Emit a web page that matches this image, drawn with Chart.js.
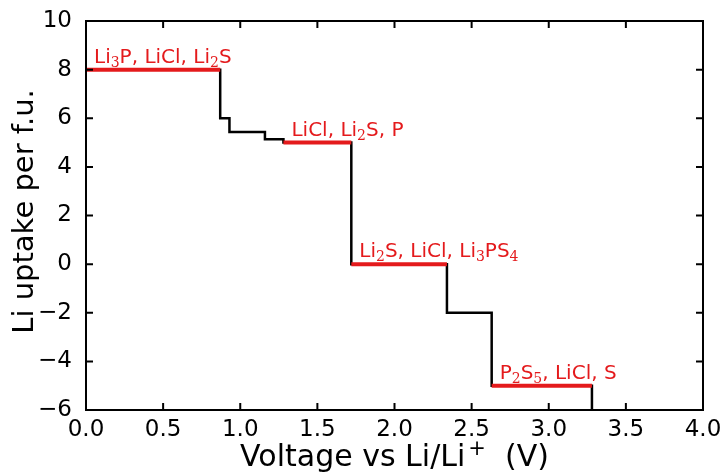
<!DOCTYPE html>
<html>
<head>
<meta charset="utf-8">
<script src="https://cdn.jsdelivr.net/npm/chart.js@4.4.0/dist/chart.umd.min.js"></script>
<style>
  html, body { margin: 0; padding: 0; background: #fff; }
</style>
</head>
<body>
<canvas id="myChart" width="723" height="472"></canvas>
<script>
// voltage profile (step function, value holds until next voltage)
var voltage = [0, 0.87, 0.93, 1.16, 1.28, 1.72, 2.34, 2.63, 3.28];
var uptake = [8, 6, 5.43, 5.14, 5, 0, -2, -5, -6];

// highlighted phase plateaus
var phaseStart = [0, 1.28, 1.72, 2.63];
var phaseEnd = [0.87, 1.72, 2.34, 3.28];
var phaseUptake = [8, 5, 0, -5];
var phaseLabels = ['Li_3P, LiCl, Li_2S', 'LiCl, Li_2S, P', 'Li_2S, LiCl, Li_3PS_4', 'P_2S_5, LiCl, S'];

var xMin = 0, xMax = 4, xStep = 0.5;
var yMin = -6, yMax = 10, yStep = 2;

var RED = 'rgb(228,26,28)';
var ctx = document.getElementById('myChart');

var profile = [];
for (var i = 0; i < voltage.length; i++) {
  profile.push({x: voltage[i], y: uptake[i]});
}

var datasets = [];
for (var j = 0; j < phaseStart.length; j++) {
  datasets.push({
    data: [{x: phaseStart[j], y: phaseUptake[j]}, {x: phaseEnd[j], y: phaseUptake[j]}],
    borderColor: RED,
    borderWidth: 4,
    pointRadius: 0,
    showLine: true,
    order: 0
  });
}
datasets.push({
  data: profile,
  borderColor: '#000',
  borderWidth: 2.5,
  pointRadius: 0,
  showLine: true,
  stepped: 'before',
  order: 1
});

// draw a string where _N means subscript N
function drawRich(c, str, x, y, size, color) {
  var parts = str.split(/(_\d)/);
  c.save();
  c.fillStyle = color;
  c.textBaseline = 'alphabetic';
  c.textAlign = 'left';
  for (var k = 0; k < parts.length; k++) {
    var p = parts[k];
    if (!p) continue;
    if (p[0] === '_') {
      c.font = Math.round(size * 0.72) + 'px "DejaVu Serif"';
      c.fillText(p.slice(1), x, y + size * 0.2);
      x += c.measureText(p.slice(1)).width;
    } else {
      c.font = size + 'px "DejaVu Sans"';
      c.fillText(p, x, y);
      x += c.measureText(p).width;
    }
  }
  c.restore();
}

var decorations = {
  id: 'decorations',
  afterDatasetsDraw: function(chart) {
    var c = chart.ctx;
    var a = chart.chartArea;
    var xs = chart.scales.x, ys = chart.scales.y;

    // frame
    c.save();
    c.strokeStyle = '#000';
    c.lineWidth = 2;
    c.strokeRect(a.left, a.top, a.right - a.left, a.bottom - a.top);

    // inward ticks on all sides
    c.lineWidth = 2;
    c.beginPath();
    xs.ticks.forEach(function(t) {
      var px = xs.getPixelForValue(t.value);
      c.moveTo(px, a.bottom); c.lineTo(px, a.bottom - 7);
      c.moveTo(px, a.top); c.lineTo(px, a.top + 7);
    });
    ys.ticks.forEach(function(t) {
      var py = ys.getPixelForValue(t.value);
      c.moveTo(a.left, py); c.lineTo(a.left + 7, py);
      c.moveTo(a.right, py); c.lineTo(a.right - 7, py);
    });
    c.stroke();
    c.restore();

    // phase labels
    for (var n = 0; n < phaseLabels.length; n++) {
      var lx = xs.getPixelForValue(phaseStart[n]) + 8;
      var ly = ys.getPixelForValue(phaseUptake[n]) - 7;
      drawRich(c, phaseLabels[n], lx, ly, 20, RED);
    }

    // x axis title with superscript
    c.save();
    c.fillStyle = '#000';
    c.textBaseline = 'alphabetic';
    var big = '30px "DejaVu Sans"', small = '21px "DejaVu Sans"';
    var s1 = 'Voltage vs Li/Li', s2 = '+', s3 = '  (V)';
    c.font = big; var w1 = c.measureText(s1).width, w3 = c.measureText(s3).width;
    c.font = small; var w2 = c.measureText(s2).width + 3;
    var tx = (a.left + a.right) / 2 - (w1 + w2 + w3) / 2;
    var ty = 466;
    c.font = big; c.fillText(s1, tx, ty);
    c.font = small; c.fillText(s2, tx + w1 + 3, ty - 11);
    c.font = big; c.fillText(s3, tx + w1 + w2, ty);

    // y axis title
    c.translate(33, (a.top + a.bottom) / 2 - 4);
    c.rotate(-Math.PI / 2);
    c.textAlign = 'center';
    c.font = '29px "DejaVu Sans"';
    c.fillText('Li uptake per f.u.', 0, 0);
    c.restore();
  }
};

new Chart(ctx, {
  type: 'scatter',
  data: { datasets: datasets },
  options: {
    responsive: false,
    animation: false,
    layout: { padding: { top: 21, right: 20, left: 0, bottom: 0 } },
    plugins: { legend: { display: false }, tooltip: { enabled: false } },
    scales: {
      x: {
        type: 'linear',
        min: xMin, max: xMax,
        grid: { display: false },
        border: { display: false },
        afterFit: function(scale) { scale.height = 62; },
        ticks: {
          stepSize: xStep,
          padding: -2,
          color: '#000',
          font: { family: 'DejaVu Sans', size: 23 },
          callback: function(v) { return v.toFixed(1); }
        }
      },
      y: {
        type: 'linear',
        min: yMin, max: yMax,
        grid: { display: false },
        border: { display: false },
        afterFit: function(scale) { scale.width = 86; },
        ticks: {
          stepSize: yStep,
          padding: 6,
          color: '#000',
          font: { family: 'DejaVu Sans', size: 23 },
          callback: function(v) { return String(v).replace('-', '\u2212'); }
        }
      }
    }
  },
  plugins: [decorations]
});
</script>
</body>
</html>
